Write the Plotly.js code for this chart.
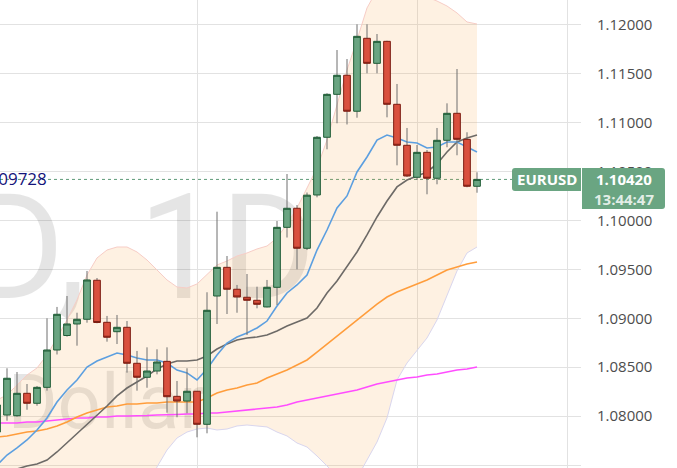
<!DOCTYPE html>
<html><head><meta charset="utf-8">
<script src="https://cdn.plot.ly/plotly-3.0.1.min.js"></script>
<style>html,body{margin:0;padding:0;background:#fff;overflow:hidden}#chart{width:677px;height:468px}</style>
</head><body><div id="chart"></div>
<script>
// ---- data (EURUSD, daily) ----
const symbol = 'EURUSD';
const priceClock = '13:44:47';
const sideLabel = '1.09728';
const watermarkSymbol = 'EURUSD,';
const watermarkInterval = '1D';
const watermarkSub = 'Euro / U.S. Dollar';

const open  = [1.07837,1.08011,1.08004,1.08233,1.08131,1.08294,1.08676,1.08824,1.08942,1.08990,1.09389,1.08959,1.08863,1.08908,1.08540,1.08397,1.08461,1.08560,1.08202,1.08154,1.08254,1.07916,1.09228,1.09521,1.09297,1.09215,1.09184,1.09116,1.09317,1.09930,1.10125,1.09716,1.10261,1.10851,1.11290,1.11485,1.11117,1.11863,1.11607,1.11832,1.11188,1.10769,1.10442,1.10697,1.10432,1.10820,1.11096,1.10830,1.10350];
const high  = [1.08134,1.08489,1.08451,1.08328,1.08308,1.09000,1.09116,1.09228,1.09057,1.09484,1.09412,1.09024,1.09034,1.08972,1.08666,1.08703,1.08683,1.08703,1.08359,1.08489,1.08254,1.09266,1.10090,1.09637,1.09341,1.09453,1.09323,1.09392,1.09995,1.10475,1.10158,1.10286,1.10864,1.11301,1.11743,1.11651,1.12006,1.12006,1.11907,1.11838,1.11396,1.10946,1.10772,1.10721,1.10946,1.11198,1.11549,1.10902,1.10493];
const low   = [1.07817,1.07953,1.07994,1.08065,1.08106,1.08260,1.08630,1.08812,1.08720,1.08955,1.08949,1.08761,1.08737,1.08444,1.08260,1.08290,1.08427,1.08035,1.07988,1.08029,1.07783,1.07824,1.08942,1.09044,1.09057,1.08829,1.09102,1.09111,1.09136,1.09826,1.09501,1.09698,1.10237,1.10728,1.10994,1.10982,1.11051,1.11505,1.11505,1.11055,1.10564,1.10445,1.10414,1.10268,1.10370,1.10749,1.10667,1.10340,1.10284];
const close = [1.08114,1.08387,1.08233,1.08131,1.08294,1.08676,1.09041,1.08942,1.08990,1.09392,1.08957,1.08806,1.08908,1.08540,1.08397,1.08461,1.08553,1.08198,1.08154,1.08254,1.07916,1.09082,1.09521,1.09297,1.09218,1.09184,1.09143,1.09317,1.09930,1.10125,1.09716,1.10259,1.10851,1.11290,1.11485,1.11117,1.11883,1.11607,1.11832,1.11188,1.10769,1.10455,1.10697,1.10432,1.10820,1.11096,1.10830,1.10350,1.10420];

const maBlue    = [1.07500,1.07602,1.07674,1.07756,1.07858,1.07981,1.08144,1.08267,1.08369,1.08502,1.08563,1.08604,1.08645,1.08625,1.08594,1.08574,1.08574,1.08543,1.08471,1.08441,1.08369,1.08482,1.08625,1.08747,1.08809,1.08850,1.08901,1.08972,1.09126,1.09259,1.09341,1.09443,1.09698,1.09903,1.10128,1.10251,1.10496,1.10649,1.10823,1.10874,1.10844,1.10803,1.10792,1.10741,1.10752,1.10803,1.10803,1.10752,1.10700];
const maGrey    = [1.07408,1.07439,1.07459,1.07490,1.07510,1.07551,1.07633,1.07725,1.07817,1.07909,1.08011,1.08103,1.08206,1.08287,1.08349,1.08410,1.08482,1.08533,1.08563,1.08563,1.08574,1.08615,1.08686,1.08737,1.08778,1.08799,1.08809,1.08829,1.08870,1.08921,1.08962,1.09003,1.09105,1.09259,1.09381,1.09525,1.09678,1.09852,1.10036,1.10199,1.10343,1.10414,1.10455,1.10496,1.10578,1.10700,1.10803,1.10844,1.10874];
const maOrange  = [1.07786,1.07797,1.07817,1.07837,1.07848,1.07868,1.07899,1.07940,1.07991,1.08032,1.08062,1.08093,1.08103,1.08124,1.08124,1.08134,1.08134,1.08144,1.08144,1.08144,1.08144,1.08185,1.08236,1.08267,1.08287,1.08318,1.08338,1.08390,1.08430,1.08471,1.08523,1.08574,1.08655,1.08737,1.08819,1.08901,1.08983,1.09064,1.09146,1.09218,1.09269,1.09310,1.09351,1.09392,1.09443,1.09494,1.09525,1.09555,1.09576];
const maMagenta = [1.07929,1.07929,1.07929,1.07940,1.07940,1.07950,1.07960,1.07970,1.07981,1.07981,1.07991,1.07991,1.08001,1.08001,1.08001,1.08006,1.08011,1.08011,1.08017,1.08021,1.08021,1.08032,1.08032,1.08042,1.08052,1.08062,1.08073,1.08083,1.08093,1.08114,1.08144,1.08165,1.08185,1.08206,1.08226,1.08246,1.08267,1.08298,1.08328,1.08349,1.08369,1.08390,1.08400,1.08420,1.08430,1.08451,1.08471,1.08482,1.08502];
const bbUpper   = [1.08165,1.08216,1.08318,1.08420,1.08492,1.08625,1.08799,1.08983,1.09187,1.09443,1.09617,1.09698,1.09729,1.09729,1.09678,1.09596,1.09494,1.09392,1.09320,1.09310,1.09351,1.09443,1.09545,1.09586,1.09637,1.09668,1.09709,1.09739,1.09821,1.09964,1.10128,1.10332,1.10537,1.10823,1.11181,1.11539,1.11846,1.12173,1.12357,1.12439,1.12408,1.12357,1.12316,1.12285,1.12244,1.12193,1.12122,1.12030,1.12009];
const bbLower   = [1.06733,1.06702,1.06631,1.06559,1.06549,1.06498,1.06508,1.06467,1.06385,1.06314,1.06324,1.06447,1.06641,1.06784,1.06999,1.07224,1.07480,1.07653,1.07776,1.07837,1.07868,1.07878,1.07858,1.07868,1.07899,1.07909,1.07899,1.07889,1.07837,1.07797,1.07725,1.07684,1.07592,1.07490,1.07388,1.07326,1.07367,1.07551,1.07735,1.07981,1.08369,1.08543,1.08676,1.08799,1.08983,1.09238,1.09484,1.09668,1.09729];

const priceTicks = [1.075,1.080,1.085,1.090,1.095,1.100,1.105,1.110,1.115,1.120];
const periodStartBars = [20, 42, 57];   // bars where the vertical grid lines fall

// ---- geometry helpers (decorations only) ----
const bar = open.map((_, i) => i);
const xRange = [0.3, 58.4];
const yRange = [1.074693, 1.122546];
const W = 581, H = 468;
const px2x = p => xRange[0] + p * (xRange[1] - xRange[0]) / W;
const px2y = p => yRange[1] - p * (yRange[1] - yRange[0]) / H;

const last = close[close.length - 1];
const bodyHigh = open.map((o, i) => Math.max(o, close[i]));
const bodyLow  = open.map((o, i) => Math.min(o, close[i]));
const wickX = [], wickY = [];
bar.forEach(i => { wickX.push(i, i, null); wickY.push(low[i], high[i], null); });

const lineTrace = (y, color, w, z) => ({type:'scatter', mode:'lines', x:bar, y:y, line:{color:color, width:w}, hoverinfo:'skip', zorder:z});
const wmColor = 'rgba(0,0,0,0.1)';

const traces = [
  {type:'scatter', mode:'text', x:[px2x(86)], y:[px2y(261)], text:[watermarkSymbol], textposition:'middle left',
   textfont:{family:'Roboto', size:146, color:wmColor}, hoverinfo:'skip', zorder:-3},
  {type:'scatter', mode:'text', x:[px2x(316)], y:[px2y(261)], text:[watermarkInterval], textposition:'middle left',
   textfont:{family:'Roboto', size:146, color:wmColor}, hoverinfo:'skip', zorder:-3},
  {type:'scatter', mode:'text', x:[px2x(205)], y:[px2y(409)], text:[watermarkSub], textposition:'middle left',
   textfont:{family:'Roboto', size:76, color:wmColor}, hoverinfo:'skip', zorder:-3},
  lineTrace(bbUpper, '#f7cdc6', 1, -2),
  Object.assign(lineTrace(bbLower, '#d9d6ee', 1, -2), {fill:'tonexty', fillcolor:'rgba(250,160,60,0.15)'}),
  lineTrace(maMagenta, '#ff4dff', 1.6, -1),
  lineTrace(maOrange, '#ff9d3c', 1.6, -1),
  lineTrace(maGrey, '#6d6a67', 1.6, -1),
  lineTrace(maBlue, '#5c9fe0', 1.6, -1),
  {type:'scatter', mode:'lines', x:wickX, y:wickY, line:{color:'#6e6e6e', width:1}, hoverinfo:'skip', zorder:-1},
  {type:'candlestick', x:bar, open:open, high:bodyHigh, low:bodyLow, close:close, whiskerwidth:0,
   increasing:{fillcolor:'#6aa582', line:{color:'#1f5c36', width:1}},
   decreasing:{fillcolor:'#d9503e', line:{color:'#7d1d12', width:1}},
   hoverinfo:'skip', zorder:1}
];

const layout = {
  width:677, height:468, margin:{l:0, r:96, t:0, b:0, pad:0},
  paper_bgcolor:'#ffffff', plot_bgcolor:'#ffffff', showlegend:false, hovermode:false,
  boxgap:0.33, boxgroupgap:0,
  xaxis:{range:xRange, tickvals:periodStartBars, showticklabels:false, ticks:'', showgrid:true,
         gridcolor:'#e2e2e2', gridwidth:1, zeroline:false, showline:false, rangeslider:{visible:false}, fixedrange:true},
  yaxis:{side:'right', range:yRange, tickvals:priceTicks, tickformat:'.5f', showgrid:true, gridcolor:'#e2e2e2',
         zeroline:false, showline:true, linecolor:'#555555', linewidth:1, ticks:'', ticklabelstandoff:12,
         tickfont:{family:'Open Sans', size:15, color:'#4d4d4d'}, automargin:false, fixedrange:true},
  shapes:[
    {type:'line', xref:'paper', x0:0, x1:1, yref:'y', y0:last, y1:last, layer:'below',
     line:{color:'#5e9a78', width:1, dash:'dot'}},
    {type:'path', xref:'paper', xsizemode:'pixel', xanchor:1, yref:'y', ysizemode:'pixel', yanchor:last,
     path:'M 0,11.5 L -66,11.5 Q -69,11.5 -69,8.5 L -69,-8.5 Q -69,-11.5 -66,-11.5 L 0,-11.5 Z',
     fillcolor:'#6aa582', line:{width:0}},
    {type:'path', xref:'paper', xsizemode:'pixel', xanchor:1, yref:'y', ysizemode:'pixel', yanchor:last,
     path:'M 1,11.5 L 81,11.5 Q 84,11.5 84,8.5 L 84,-26.5 Q 84,-29.5 81,-29.5 L 1,-29.5 Z',
     fillcolor:'#6aa582', line:{width:0}}
  ],
  annotations:[
    {xref:'paper', x:1, xanchor:'center', xshift:-34.5, yref:'y', y:last, yanchor:'middle', text:symbol, showarrow:false,
     font:{family:'Open Sans', size:15, color:'#ffffff', weight:'bold'}},
    {xref:'paper', x:1, xanchor:'center', xshift:42.5, yref:'y', y:last, yanchor:'middle', text:last.toFixed(5), showarrow:false,
     font:{family:'Open Sans', size:15, color:'#ffffff', weight:'bold'}},
    {xref:'paper', x:1, xanchor:'center', xshift:42.5, yref:'y', y:last, yanchor:'middle', yshift:-19.5, text:priceClock, showarrow:false,
     font:{family:'Open Sans', size:15, color:'rgba(255,255,255,0.82)', weight:'bold'}},
    {xref:'paper', x:0, xanchor:'right', xshift:49, yref:'paper', y:1 - 178/468, yanchor:'middle', text:sideLabel,
     showarrow:false, font:{family:'Open Sans', size:17, color:'#14147a'}}
  ]
};

Plotly.newPlot('chart', traces, layout, {staticPlot:true, displayModeBar:false});
</script>
</body></html>
